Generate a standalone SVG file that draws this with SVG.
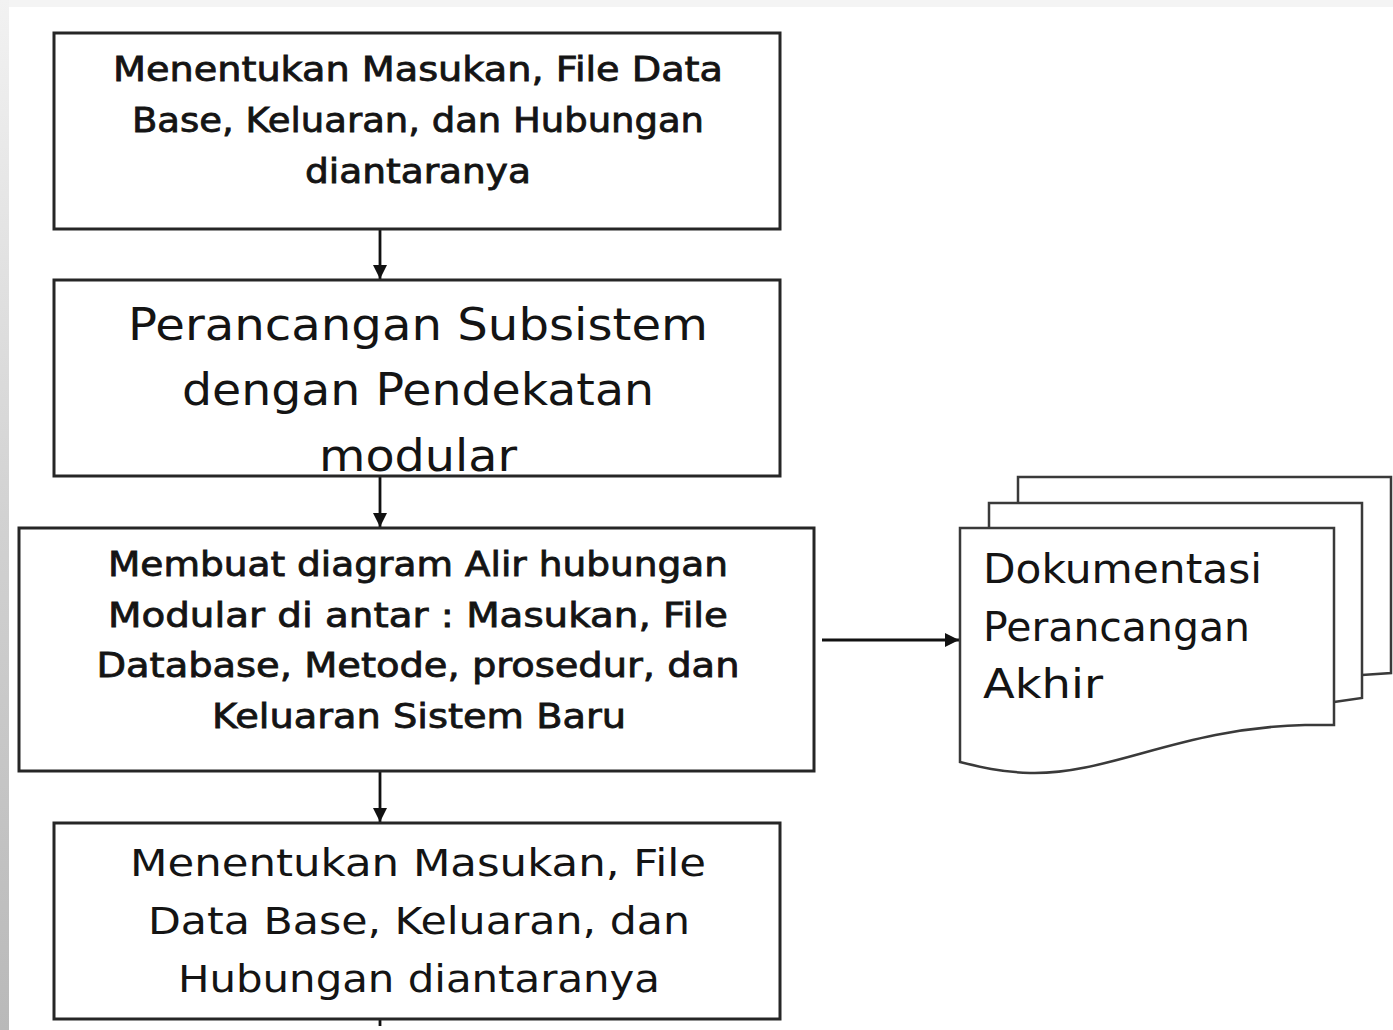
<svg xmlns="http://www.w3.org/2000/svg" width="1393" height="1030" viewBox="0 0 1393 1030">
  <defs>
    <linearGradient id="edge" x1="0" y1="0" x2="0" y2="1">
      <stop offset="0" stop-color="#f2f2f2"/>
      <stop offset="0.5" stop-color="#d2d2d2"/>
      <stop offset="1" stop-color="#b9b9b9"/>
    </linearGradient>
    <marker id="head" viewBox="0 0 14 14" refX="14" refY="7" markerWidth="14" markerHeight="14" markerUnits="userSpaceOnUse" orient="auto">
      <path d="M0,0 L14,7 L0,14 Z" fill="#111"/>
    </marker>
    <style>
      .box { fill: #fff; stroke: #262626; stroke-width: 3; }
      .page { fill: #fff; stroke: #3a3a3a; stroke-width: 2.5; stroke-linejoin: miter; }
      .link { fill: none; stroke: #111; stroke-width: 2.8; }
      .t { font-family: "DejaVu Sans", "Noto Sans", sans-serif; fill: #141414; text-anchor: middle; }
      .s { font-size: 33px; stroke: #141414; stroke-width: 0.8; }
      .m { font-size: 37px; }
      .l { font-size: 45px; }
      .doc { font-family: "DejaVu Sans", "Noto Sans", sans-serif; fill: #141414; font-size: 41px; }
    </style>
  </defs>

  <!-- page background with slide edge shading -->
  <rect x="0" y="0" width="1393" height="1030" fill="#ffffff"/>
  <rect x="0" y="0" width="1393" height="7" fill="#f4f4f4"/>
  <rect x="0" y="0" width="9" height="1030" fill="url(#edge)"/>

  <!-- connectors -->
  <g id="connectors">
    <line class="link" x1="380" y1="230" x2="380" y2="279" marker-end="url(#head)"/>
    <line class="link" x1="380" y1="477" x2="380" y2="527" marker-end="url(#head)"/>
    <line class="link" x1="380" y1="772" x2="380" y2="822" marker-end="url(#head)"/>
    <line class="link" x1="822" y1="640" x2="959" y2="640" marker-end="url(#head)"/>
    <line class="link" x1="380" y1="1020" x2="380" y2="1026"/>
  </g>

  <g id="step1">
    <rect class="box" x="54" y="33" width="726" height="196"/>
    <text class="t s" x="418" y="81" textLength="610" lengthAdjust="spacingAndGlyphs">Menentukan Masukan, File Data</text>
    <text class="t s" x="418" y="132" textLength="572" lengthAdjust="spacingAndGlyphs">Base, Keluaran, dan Hubungan</text>
    <text class="t s" x="418" y="183" textLength="226" lengthAdjust="spacingAndGlyphs">diantaranya</text>
  </g>

  <g id="step2">
    <rect class="box" x="54" y="280" width="726" height="196"/>
    <text class="t l" x="418" y="340" textLength="580" lengthAdjust="spacingAndGlyphs">Perancangan Subsistem</text>
    <text class="t l" x="418" y="405" textLength="472" lengthAdjust="spacingAndGlyphs">dengan Pendekatan</text>
    <text class="t l" x="418" y="471" textLength="198" lengthAdjust="spacingAndGlyphs">modular</text>
  </g>

  <g id="step3">
    <rect class="box" x="19" y="528" width="795" height="243"/>
    <text class="t s" x="418" y="576" textLength="620" lengthAdjust="spacingAndGlyphs">Membuat diagram Alir hubungan</text>
    <text class="t s" x="418" y="627" textLength="620" lengthAdjust="spacingAndGlyphs">Modular di antar : Masukan, File</text>
    <text class="t s" x="418" y="677" textLength="643" lengthAdjust="spacingAndGlyphs">Database, Metode, prosedur, dan</text>
    <text class="t s" x="419" y="728" textLength="414" lengthAdjust="spacingAndGlyphs">Keluaran Sistem Baru</text>
  </g>

  <g id="step4">
    <rect class="box" x="54" y="823" width="726" height="196"/>
    <text class="t m" x="418" y="876" textLength="576" lengthAdjust="spacingAndGlyphs">Menentukan Masukan, File</text>
    <text class="t m" x="419" y="934" textLength="542" lengthAdjust="spacingAndGlyphs">Data Base, Keluaran, dan</text>
    <text class="t m" x="419" y="992" textLength="482" lengthAdjust="spacingAndGlyphs">Hubungan diantaranya</text>
  </g>

  <g id="documents">
    <path class="page" d="M1018,503 V477 H1391 V673 L1362,675"/>
    <path class="page" d="M989,528 V503 H1362 V698 L1334,702"/>
    <path class="page" d="M960,528 H1334 V725 H1305 C1180,728 1110,775 1030,773 C1000,772 980,767 960,762 Z"/>
    <text class="doc" x="983" y="583" textLength="279" lengthAdjust="spacingAndGlyphs">Dokumentasi</text>
    <text class="doc" x="983" y="641" textLength="267" lengthAdjust="spacingAndGlyphs">Perancangan</text>
    <text class="doc" x="983" y="698" textLength="120" lengthAdjust="spacingAndGlyphs">Akhir</text>
  </g>
</svg>
